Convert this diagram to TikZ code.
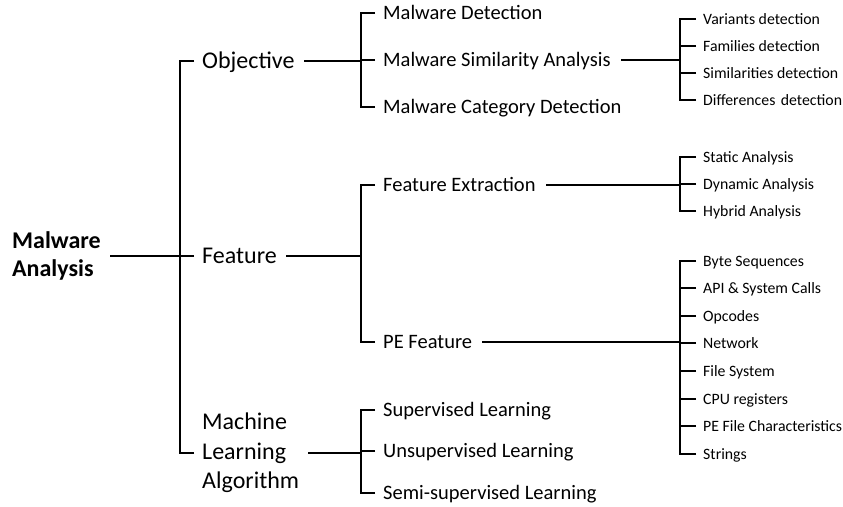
\documentclass[tikz,border=0pt]{standalone}
\usepackage{fontspec}
\setmainfont{Carlito}
\usetikzlibrary{positioning}

\begin{document}
\begin{tikzpicture}[x=1pt,y=-1pt,
        link/.style={line width=1.8pt},
        rootbox/.style={anchor=west,inner sep=0pt,align=left,font=\fontsize{24}{28}\selectfont\bfseries},
        lvlone/.style={anchor=west,inner sep=0pt,text height=15pt,text depth=0pt,font=\fontsize{24}{29.5}\selectfont},
        lvltwo/.style={anchor=west,inner sep=0pt,text height=13pt,text depth=0pt,font=\fontsize{20.5}{24}\selectfont},
        lvlthree/.style={anchor=west,inner sep=0pt,text height=10pt,text depth=0pt,font=\fontsize{15.8}{19}\selectfont},
        brace/.style={link,to path={([xshift=-8pt]\tikztotarget.west) -- ++(-14,0) |- ([xshift=9pt]\tikztostart.east)}},
        bracesmall/.style={link,to path={([xshift=-7pt]\tikztotarget.west) -- ++(-16,0) |- ([xshift=10pt]\tikztostart.east)}}]
        \useasboundingbox (0,0) rectangle (843,506);
        % root and first level
        \node[rootbox] (root) at (12,256) {Malware\\Analysis};
        \node[lvlone]  (obj)  at (202,61)  {Objective};
        \node[lvlone]  (feat) at (202,256) {Feature};
        \node[lvlone,text height=,text depth=,align=left] (mla) at (202,453) {Machine\\Learning\\Algorithm};
        % second level
        \node[lvltwo] (mdet)   at (383,13)  {Malware Detection};
        \node[lvltwo] (msim)   at (383,60)  {Malware Similarity Analysis};
        \node[lvltwo] (mcat)   at (383,107) {Malware Category Detection};
        \node[lvltwo] (fext)   at (383,185) {Feature Extraction};
        \node[lvltwo] (pefeat) at (383,342) {PE Feature};
        \node[lvltwo] (sup)    at (383,410) {Supervised Learning};
        \node[lvltwo] (unsup)  at (383,451) {Unsupervised Learning};
        \node[lvltwo] (semi)   at (383,493) {Semi-supervised Learning};
        % third level
        \node[lvlthree] (var)  at (703,19)  {Variants detection};
        \node[lvlthree] (fam)  at (703,46)  {Families detection};
        \node[lvlthree] (simd) at (703,73)  {Similarities detection};
        \node[lvlthree] (diff) at (703,100) {Differences\hspace{0.12em} detection};
        \node[lvlthree] (stat) at (703,157) {Static Analysis};
        \node[lvlthree] (dyn)  at (703,184) {Dynamic Analysis};
        \node[lvlthree] (hyb)  at (703,211) {Hybrid Analysis};
        \node[lvlthree] (byte) at (703,261) {Byte Sequences};
        \node[lvlthree] (api)  at (703,288) {API \& System Calls};
        \node[lvlthree] (opc)  at (703,316) {Opcodes};
        \node[lvlthree] (net)  at (703,343) {Network};
        \node[lvlthree] (fsys) at (703,371) {File System};
        \node[lvlthree] (cpu)  at (703,399) {CPU registers};
        \node[lvlthree] (pefc) at (703,426) {PE File Characteristics};
        \node[lvlthree] (str)  at (703,454) {Strings};
        \path
          (root) edge[brace] (obj)
          (root) edge[brace] (feat)
          (root) edge[brace] (mla)
          (obj) edge[brace] (mdet)
          (obj) edge[brace] (msim)
          (obj) edge[brace] (mcat)
          (feat) edge[brace] (fext)
          (feat) edge[brace] (pefeat)
          (mla) edge[brace] (sup)
          (mla) edge[brace] (unsup)
          (mla) edge[brace] (semi)
          ;
        \foreach \c in {var,fam,simd,diff}
          \path (msim) edge[bracesmall] (\c);
        \foreach \c in {stat,dyn,hyb}
          \path (fext) edge[bracesmall] (\c);
        \foreach \c in {byte,api,opc,net,fsys,cpu,pefc,str}
          \path (pefeat) edge[bracesmall] (\c);
      \end{tikzpicture}
\end{document}
